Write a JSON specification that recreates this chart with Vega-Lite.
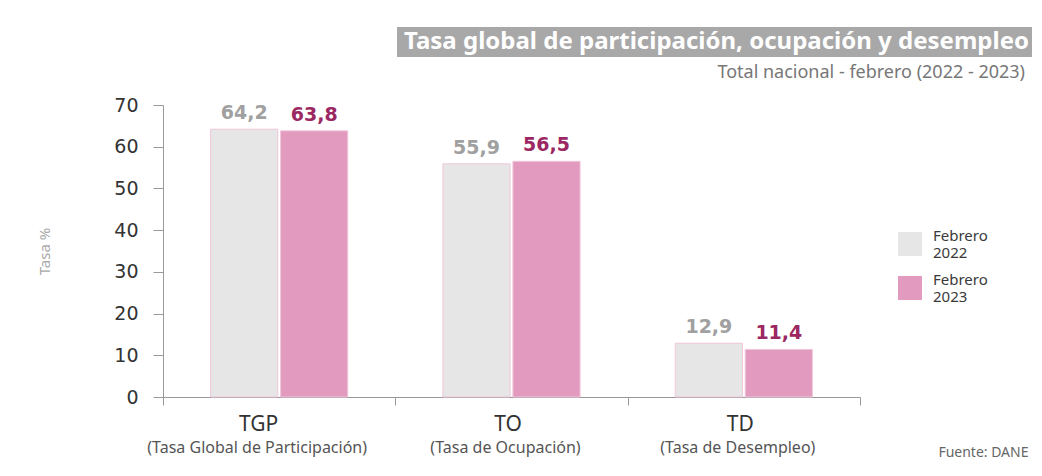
{
  "$schema": "https://vega.github.io/schema/vega-lite/v6.json",
  "width": 697,
  "height": 292,
  "autosize": "none",
  "padding": {"left": 163, "top": 105, "right": 182, "bottom": 79},
  "background": "white",
  "config": {
    "locale": {"number": {"decimal": ",", "thousands": ".", "grouping": [3], "currency": ["$", ""]}},
    "view": {"stroke": null},
    "font": "Noto Sans"
  },
  "title": {
    "text": "Total nacional - febrero (2022 - 2023)",
    "anchor": "end", "frame": "group", "dx": 165, "dy": 78, "offset": 23,
    "fontSize": 18, "fontWeight": "normal", "color": "#777777", "font": "Noto Sans"
  },
  "data": {
    "values": [
      {"indicador": "TGP", "periodo": "Febrero 2022", "valor": 64.2},
      {"indicador": "TGP", "periodo": "Febrero 2023", "valor": 63.8},
      {"indicador": "TO", "periodo": "Febrero 2022", "valor": 55.9},
      {"indicador": "TO", "periodo": "Febrero 2023", "valor": 56.5},
      {"indicador": "TD", "periodo": "Febrero 2022", "valor": 12.9},
      {"indicador": "TD", "periodo": "Febrero 2023", "valor": 11.4}
    ]
  },
  "layer": [
    {
      "mark": {"type": "bar", "stroke": "#efc6da", "strokeWidth": 1},
      "encoding": {
        "x": {
          "field": "indicador", "type": "nominal", "sort": ["TGP", "TO", "TD"],
          "scale": {"paddingInner": 0, "paddingOuter": 0},
          "axis": {
            "orient": "bottom", "title": null, "labelAngle": 0,
            "domainColor": "#999999", "tickColor": "#999999", "tickBand": "extent", "tickSize": 8,
            "labelFont": "Noto Sans", "labelFontSize": 21, "labelColor": "#333333",
            "labelPadding": 8, "labelBaseline": "top",
            "labelOffset": {"condition": {"test": "datum.value === 'TGP'", "value": -21}, "value": -4}
          }
        },
        "xOffset": {"field": "periodo", "type": "nominal", "scale": {"paddingInner": 0.04, "paddingOuter": 0.68}},
        "y": {
          "field": "valor", "type": "quantitative",
          "scale": {"domain": [0, 70], "nice": false},
          "axis": {
            "values": [0, 10, 20, 30, 40, 50, 60, 70],
            "title": "Tasa %", "titleColor": "#a8a8a8", "titleFont": "Noto Sans", "titleFontSize": 15,
            "titleFontWeight": "normal", "titleX": -119, "titleY": 146, "titleAngle": 270,
            "titleAlign": "center", "titleBaseline": "middle",
            "grid": false, "domainColor": "#999999", "tickColor": "#999999", "tickSize": 10,
            "labelPadding": 15, "labelFont": "DejaVu Sans", "labelFontSize": 19, "labelColor": "#333333"
          }
        },
        "color": {
          "field": "periodo", "type": "nominal",
          "scale": {"domain": ["Febrero 2022", "Febrero 2023"], "range": ["#e6e6e6", "#e29bbf"]},
          "legend": {
            "orient": "none", "legendX": 735, "legendY": 127, "title": null,
            "symbolType": "square", "symbolSize": 576, "symbolStrokeWidth": 0,
            "labelExpr": "split(datum.label, ' ')", "labelBaseline": "bottom",
            "labelFont": "Noto Sans", "labelFontSize": 15, "labelColor": "#3a3a3a",
            "labelOffset": 11, "rowPadding": 12
          }
        },
        "opacity": {
          "datum": "Tasa global de participación, ocupación y desempleo", "type": "nominal",
          "scale": {"range": [1]},
          "legend": {
            "orient": "none", "legendX": 234, "legendY": -78, "title": null,
            "fillColor": "#a8a8a8", "padding": 3,
            "symbolSize": 0, "symbolStrokeWidth": 0, "symbolOpacity": 0, "labelOffset": -20,
            "labelFont": "Noto Sans", "labelFontSize": 24, "labelFontWeight": "bold",
            "labelColor": "white", "labelLimit": 0
          }
        }
      }
    },
    {
      "mark": {"type": "text", "baseline": "alphabetic", "dy": -10, "font": "DejaVu Sans", "fontWeight": "bold", "fontSize": 19},
      "encoding": {
        "x": {
          "field": "indicador", "type": "nominal", "sort": ["TGP", "TO", "TD"],
          "scale": {"paddingInner": 0, "paddingOuter": 0},
          "axis": {
            "orient": "bottom", "title": "Fuente: DANE", "domain": false, "ticks": false, "labelAngle": 0,
            "labelExpr": "datum.value === 'TGP' ? '(Tasa Global de Participación)' : datum.value === 'TO' ? '(Tasa de Ocupación)' : '(Tasa de Desempleo)'",
            "labelFont": "Noto Sans", "labelFontSize": 16, "labelColor": "#555555", "labelLimit": 400,
            "labelPadding": 42, "labelBaseline": "top",
            "labelOffset": {"condition": {"test": "datum.value === 'TGP'", "value": -22}, "value": -6},
            "titleX": 865, "titleY": 59, "titleAlign": "right", "titleAnchor": null, "titleBaseline": "alphabetic",
            "titleFont": "Noto Sans", "titleFontSize": 14, "titleFontWeight": "normal", "titleColor": "#666666"
          }
        },
        "xOffset": {"field": "periodo", "type": "nominal", "scale": {"paddingInner": 0.04, "paddingOuter": 0.68}},
        "y": {"field": "valor", "type": "quantitative"},
        "text": {"field": "valor", "type": "quantitative", "format": ".1f"},
        "color": {"condition": {"test": "datum.periodo === 'Febrero 2023'", "value": "#9b2862"}, "value": "#a0a0a0"}
      }
    }
  ],
  "resolve": {"scale": {"x": "independent"}, "axis": {"x": "independent"}}
}
